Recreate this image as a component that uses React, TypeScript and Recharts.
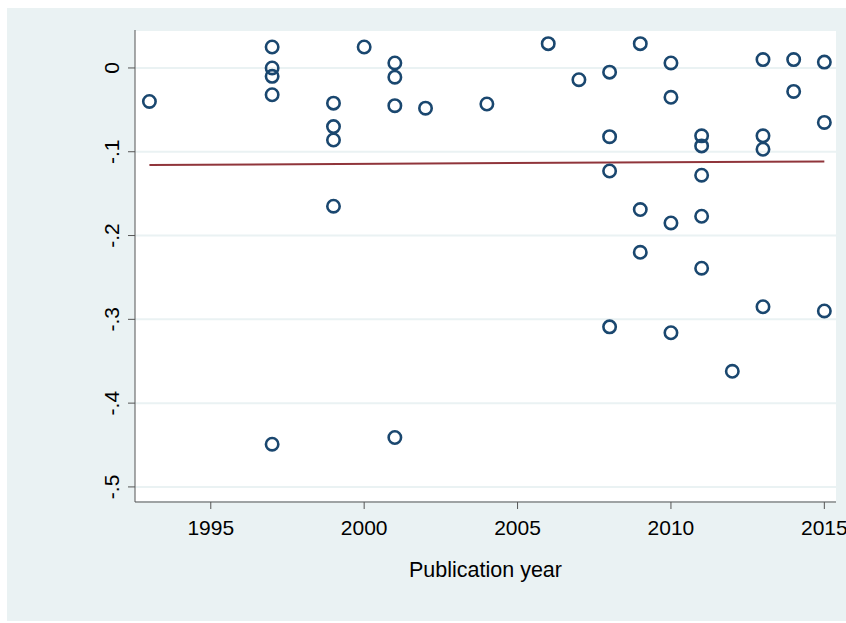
import React from 'react';
import { ScatterChart, Scatter, XAxis, YAxis, CartesianGrid, Label } from 'recharts';

// study-level estimates: publication year and effect size
const pubYear = [
  1993,
  1997, 1997, 1997, 1997, 1997,
  1999, 1999, 1999, 1999,
  2000,
  2001, 2001, 2001, 2001,
  2002, 2004, 2006, 2007,
  2008, 2008, 2008, 2008,
  2009, 2009, 2009,
  2010, 2010, 2010, 2010,
  2011, 2011, 2011, 2011, 2011,
  2012,
  2013, 2013, 2013, 2013,
  2014, 2014,
  2015, 2015, 2015,
];
const effect = [
  -0.040,
  0.025, 0.000, -0.010, -0.032, -0.449,
  -0.042, -0.070, -0.086, -0.165,
  0.025,
  0.006, -0.011, -0.045, -0.441,
  -0.048, -0.043, 0.029, -0.014,
  -0.005, -0.082, -0.123, -0.309,
  0.029, -0.169, -0.220,
  0.006, -0.035, -0.185, -0.316,
  -0.081, -0.093, -0.128, -0.177, -0.239,
  -0.362,
  0.010, -0.081, -0.097, -0.285,
  0.010, -0.028,
  0.007, -0.065, -0.290,
];

// linear fit endpoints
const fitYear = [1993, 2015];
const fitValue = [-0.1158, -0.1115];

const xTicks = [1995, 2000, 2005, 2010, 2015];
const yTicks = [0, -0.1, -0.2, -0.3, -0.4, -0.5];

const points = pubYear.map((x, i) => ({ x, y: effect[i] }));
const fit = fitYear.map((x, i) => ({ x, y: fitValue[i] }));

const FONT = '"Liberation Sans", Arial, sans-serif';

const fmtY = (v: number) => (v === 0 ? '0' : '-' + String(Math.abs(Math.round(v * 10) / 10)).replace('0.', '.'));

const YTick = (props: any) => {
  const { x, y, payload } = props;
  return (
    <text x={x} y={y} transform={`rotate(-90, ${x}, ${y})`} textAnchor="middle"
      fontFamily={FONT} fontSize={21} fill="#000">
      {fmtY(payload.value)}
    </text>
  );
};

const Ring = (props: any) => {
  if (props.cx == null) return null;
  return <circle cx={props.cx} cy={props.cy} r={6.2} fill="none" stroke="#1A476F" strokeWidth={2.6} />;
};

export default function App() {
  return (
    <div style={{ position: 'absolute', left: 0, top: 0, width: 846, height: 623, background: '#fff' }}>
      <div style={{ position: 'absolute', left: 7, top: 8, width: 839, height: 613, background: '#EAF2F3' }} />
      <div style={{ position: 'absolute', left: 0, top: 0 }}>
        <ScatterChart width={846} height={623} margin={{ top: 30, right: 10, left: 0, bottom: 41 }}>
          <CartesianGrid vertical={false} stroke="#EAF2F3" strokeWidth={2} fill="#fff" />
          <XAxis type="number" dataKey="x" domain={[1992.53, 2015.38]} ticks={xTicks} allowDataOverflow
            height={80} tickSize={7} tickMargin={11} stroke="#555"
            tick={{ fill: '#000', fontSize: 21, fontFamily: FONT }}>
            <Label value="Publication year" position="insideBottom" offset={5}
              style={{ fill: '#000', fontSize: 21.5, fontFamily: FONT }} />
          </XAxis>
          <YAxis type="number" dataKey="y" domain={[-0.518, 0.0453]} ticks={yTicks} allowDataOverflow
            width={135} tickSize={7} tickMargin={9} stroke="#555" tick={<YTick />} />
          <Scatter data={fit} line={{ stroke: '#90353B', strokeWidth: 2 }} lineType="joint"
            shape={() => null} isAnimationActive={false} />
          <Scatter data={points} shape={<Ring />} isAnimationActive={false} />
        </ScatterChart>
      </div>
    </div>
  );
}
